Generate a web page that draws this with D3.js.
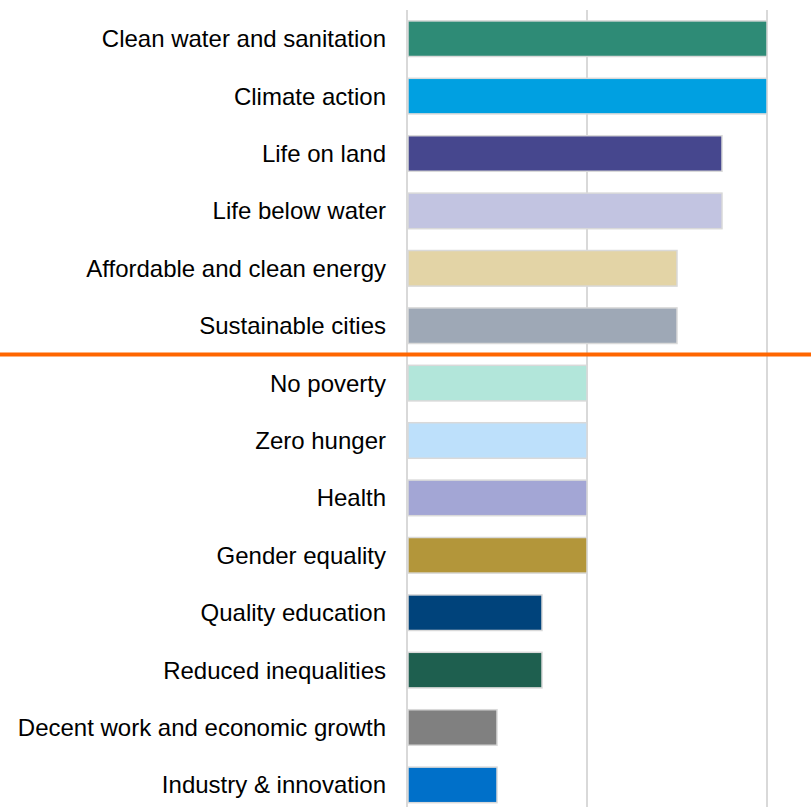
<!DOCTYPE html>
<html>
<head>
<meta charset="utf-8">
<script src="https://cdn.jsdelivr.net/npm/d3@7"></script>
<style>
  html, body { margin: 0; padding: 0; background: #fff; }
  svg { display: block; }
</style>
</head>
<body>
<div id="chart"></div>
<script>
// goals, top to bottom
const categories = [
  "Clean water and sanitation",
  "Climate action",
  "Life on land",
  "Life below water",
  "Affordable and clean energy",
  "Sustainable cities",
  "No poverty",
  "Zero hunger",
  "Health",
  "Gender equality",
  "Quality education",
  "Reduced inequalities",
  "Decent work and economic growth",
  "Industry & innovation"
];
const values = [8, 8, 7, 7, 6, 6, 4, 4, 4, 4, 3, 3, 2, 2];
const barColors = [
  "#2e8b76", "#00a0e1", "#46478e", "#c2c4e1", "#e3d4a6", "#9ea8b6", "#b2e6da",
  "#bde0fb", "#a3a6d5", "#b3963a", "#00437b", "#1e5f4f", "#808080", "#0070c9"
];
const gridTicks = [0, 4, 8];
const splitAfter = "Sustainable cities";

const width = 811, height = 807;
const plotLeft = 407, plotRight = 767;

const svg = d3.select("#chart").append("svg")
  .attr("width", width)
  .attr("height", height);

const x = d3.scaleLinear()
  .domain([0, 8])
  .range([plotLeft, plotRight]);

const y = d3.scaleBand()
  .domain(categories)
  .range([10, 10 + 14 * 57.4])
  .paddingInner(0.38)
  .paddingOuter(0.19);

// gridlines
svg.append("g")
  .selectAll("line")
  .data(gridTicks)
  .enter()
  .append("line")
  .attr("x1", d => x(d))
  .attr("x2", d => x(d))
  .attr("y1", 10)
  .attr("y2", height)
  .attr("stroke", "#d9d9d9")
  .attr("stroke-width", 2);

// bars
svg.append("g")
  .selectAll("rect")
  .data(categories)
  .enter()
  .append("rect")
  .attr("x", x(0) + 1)
  .attr("y", d => y(d))
  .attr("width", (d, i) => x(values[i]) - x(0) - 1)
  .attr("height", y.bandwidth())
  .attr("fill", (d, i) => barColors[i])
  .attr("stroke", "#d9d9d9")
  .attr("stroke-width", 1.5);

// category labels
svg.append("g")
  .selectAll("text")
  .data(categories)
  .enter()
  .append("text")
  .attr("x", plotLeft - 21)
  .attr("y", d => y(d) + y.bandwidth() / 2)
  .attr("dy", "0.35em")
  .attr("text-anchor", "end")
  .style("font-family", "'Liberation Sans', Arial, sans-serif")
  .style("font-size", "24px")
  .style("fill", "#000")
  .text(d => d);

// orange divider between the two groups
const splitIdx = categories.indexOf(splitAfter);
const splitY = y(categories[splitIdx]) + y.bandwidth() + y.step() * y.paddingInner() / 2;
svg.append("line")
  .attr("x1", 0)
  .attr("x2", width)
  .attr("y1", splitY)
  .attr("y2", splitY)
  .attr("stroke", "#ff6600")
  .attr("stroke-width", 4);
</script>
</body>
</html>
